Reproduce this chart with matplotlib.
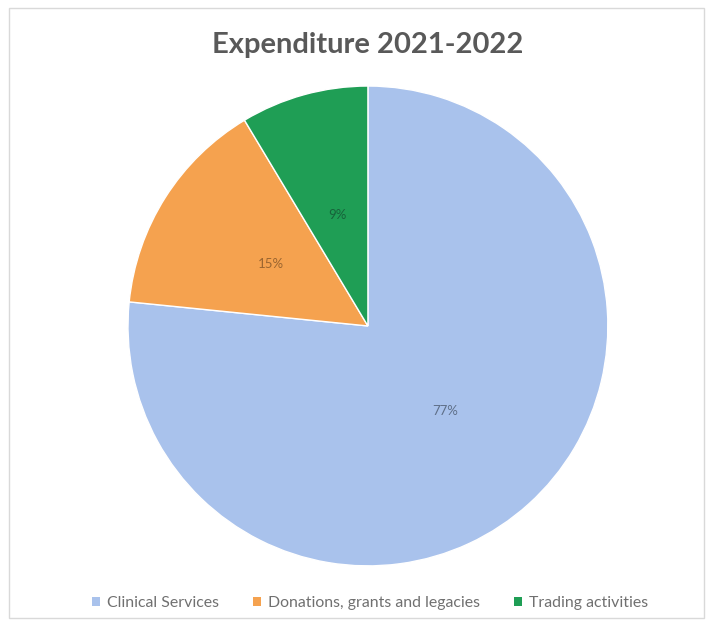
import matplotlib.pyplot as plt
from matplotlib.patches import Patch, Rectangle

# expenditure split, clockwise from 12 o'clock
categories = ["Clinical Services", "Donations, grants and legacies", "Trading activities"]
shares = [76.6, 14.8, 8.6]
colors = ["#a9c2ec", "#f5a24f", "#1f9e55"]
label_colors = ["#5f6f88", "#9a6530", "#17623a"]

plt.rcParams['font.family'] = ['Lato', 'DejaVu Sans']

fig = plt.figure(figsize=(7.13, 6.26), dpi=100)

# light frame round the chart area
fig.add_artist(Rectangle((0.012, 0.013), 0.976, 0.974, transform=fig.transFigure,
                         fill=False, edgecolor="#d9d9d9", linewidth=1.0))

ax = fig.add_axes([0.1795, 0.0958, 0.673, 0.767])
wedges, texts, pcts = ax.pie(shares, colors=colors, startangle=90, counterclock=False,
                             autopct='%.0f%%', pctdistance=0.48,
                             wedgeprops=dict(edgecolor="white", linewidth=1.0),
                             textprops=dict(fontsize=9.5))
for t, c in zip(pcts, label_colors):
    t.set_color(c)
ax.set_xlim(-1, 1)
ax.set_ylim(-1, 1)
ax.set_aspect('equal')
ax.axis('off')

fig.text(0.516, 0.928, "Expenditure 2021-2022", ha='center', va='center',
         fontsize=21, fontweight='bold', color="#595959")

handles = [Patch(facecolor=c, edgecolor='none') for c in colors]
fig.legend(handles, categories, loc='center', bbox_to_anchor=(0.519, 0.036),
           ncol=3, frameon=False, fontsize=11.4, labelcolor="#707070",
           handlelength=0.5, handleheight=0.5, handletextpad=0.4, columnspacing=2.2)

plt.savefig("out.png", dpi=100)
